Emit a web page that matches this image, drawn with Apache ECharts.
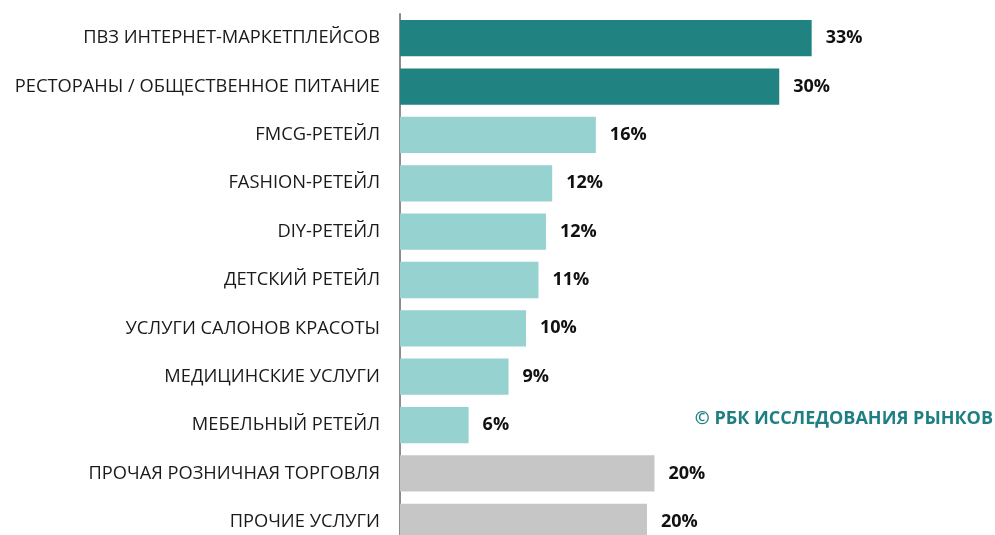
<!DOCTYPE html>
<html>
<head>
<meta charset="utf-8">
<script src="https://cdn.jsdelivr.net/npm/echarts@6/dist/echarts.min.js"></script>
<style>
  html, body { margin: 0; padding: 0; background: #fff; overflow: hidden; }
  #chart { width: 995px; height: 550px; }
</style>
</head>
<body>
<div id="chart"></div>
<script>
const categories = [
  'ПВЗ ИНТЕРНЕТ-МАРКЕТПЛЕЙСОВ',
  'РЕСТОРАНЫ / ОБЩЕСТВЕННОЕ ПИТАНИЕ',
  'FMCG-РЕТЕЙЛ',
  'FASHION-РЕТЕЙЛ',
  'DIY-РЕТЕЙЛ',
  'ДЕТСКИЙ РЕТЕЙЛ',
  'УСЛУГИ САЛОНОВ КРАСОТЫ',
  'МЕДИЦИНСКИЕ УСЛУГИ',
  'МЕБЕЛЬНЫЙ РЕТЕЙЛ',
  'ПРОЧАЯ РОЗНИЧНАЯ ТОРГОВЛЯ',
  'ПРОЧИЕ УСЛУГИ',
]
const shares = [33.0, 30.4, 15.7, 12.2, 11.7, 11.1, 10.1, 8.7, 5.5, 20.4, 19.8]
// группа: 0 — лидеры, 1 — ретейл/услуги, 2 — прочее
const groups = [0, 0, 1, 1, 1, 1, 1, 1, 1, 2, 2]

const GROUP_COLORS = ['#218282', '#96d2d0', '#c6c6c6']

const chart = echarts.init(document.getElementById('chart'))

chart.setOption({
  animation: false,
  grid: { left: 400, top: 14, width: 499, height: 532, containLabel: false },
  xAxis: {
    type: 'value',
    min: 0,
    max: 40,
    show: false,
  },
  yAxis: {
    type: 'category',
    data: categories,
    inverse: true,
    axisLine: { show: true, lineStyle: { color: '#8c8c8c', width: 2 } },
    axisTick: { show: false },
    axisLabel: {
      fontFamily: 'Open Sans',
      fontSize: 18.3,
      color: '#1a1a1a',
      margin: 20,
    },
  },
  series: [{
    type: 'bar',
    data: shares.map((v, i) => ({ value: v, itemStyle: { color: GROUP_COLORS[groups[i]] } })),
    barCategoryGap: '25%',
    label: {
      show: true,
      position: 'right',
      distance: 14,
      fontFamily: 'Open Sans',
      fontWeight: 'bold',
      fontSize: 18,
      color: '#111',
      formatter: p => Math.round(p.value) + '%',
    },
  }],
  graphic: [{
    type: 'text',
    right: 2,
    top: 410,
    style: {
      text: '© РБК ИССЛЕДОВАНИЯ РЫНКОВ',
      fontFamily: 'Open Sans',
      fontWeight: 'bold',
      fontSize: 18,
      fill: '#1e7f82',
    },
  }],
})
</script>
</body>
</html>
